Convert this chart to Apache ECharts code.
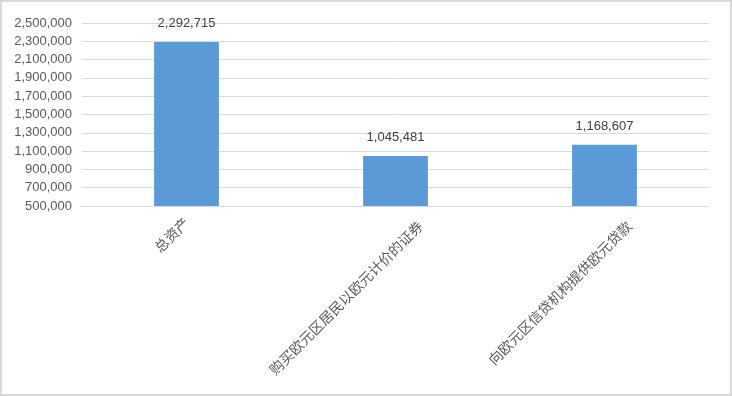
<!DOCTYPE html>
<html><head><meta charset="utf-8">
<script src="https://cdn.jsdelivr.net/npm/echarts@6/dist/echarts.min.js"></script>
<style>
html,body{margin:0;padding:0;background:#fff;}
#c{position:absolute;left:0;top:0;width:728px;height:392px;border:2px solid #d9d9d9;}
</style></head>
<body><div id="c"></div>
<script>
const categories = ['总资产', '购买欧元区居民以欧元计价的证券', '向欧元区信贷机构提供欧元贷款'];
const values = [2292715, 1045481, 1168607];
const yMin = 500000, yMax = 2500000, yStep = 200000;

const chart = echarts.init(document.getElementById('c'));
const fmt = v => v.toLocaleString('en-US');
// Long rotated labels sit a little lower-right of their tick (as in the original)
const isLong = c => c.length > 6;
const catData = categories.map((c) => isLong(c)
  ? { value: c, textStyle: { padding: [0, -15, 0, 0] } }
  : { value: c });
chart.setOption({
  animation: false,
  grid: { left: 80, right: 21, top: 21, bottom: 188, containLabel: false },
  xAxis: {
    type: 'category', data: catData,
    axisLine: { lineStyle: { color: '#d9d9d9', width: 1 } },
    axisTick: { show: false },
    axisLabel: { rotate: 45, margin: 14, color: '#595959', fontSize: 14, interval: 0,
      fontFamily: '"Noto Sans CJK SC", sans-serif',
      formatter: (v) => isLong(v) ? '{p| }\n{t|' + v + '}' : v,
      rich: {
        p: { height: 40, fontSize: 2 },
        t: { color: '#595959', fontSize: 14, fontFamily: '"Noto Sans CJK SC", sans-serif' }
      }
    }
  },
  yAxis: {
    type: 'value', min: yMin, max: yMax, interval: yStep,
    axisLine: { show: false }, axisTick: { show: false },
    splitLine: { lineStyle: { color: '#d9d9d9', width: 1 } },
    axisLabel: { color: '#595959', fontSize: 13, margin: 10, formatter: fmt,
      fontFamily: '"Liberation Sans", Arial, sans-serif' }
  },
  series: [{
    type: 'bar', data: values, barWidth: '31%',
    itemStyle: { color: '#5B9BD5' },
    label: { show: true, position: 'top', distance: 12, color: '#404040', fontSize: 13,
      fontFamily: '"Liberation Sans", Arial, sans-serif', formatter: p => fmt(p.value) }
  }]
});
</script></body></html>
